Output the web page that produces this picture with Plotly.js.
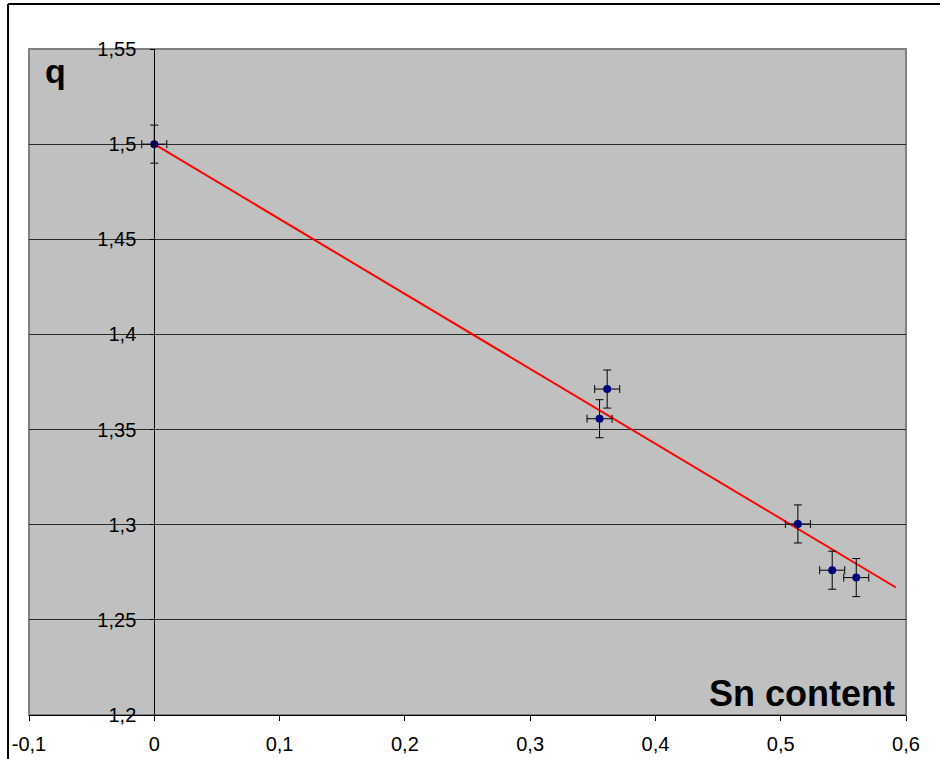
<!DOCTYPE html>
<html>
<head>
<meta charset="utf-8">
<script src="https://cdn.plot.ly/plotly-3.0.1.min.js"></script>
<style>
html,body{margin:0;padding:0;background:#fff;}
#chart{width:940px;height:759px;}
</style>
</head>
<body>
<div id="chart"></div>
<script>
// Data
const snContent = [0.0, 0.3615, 0.3554, 0.5137, 0.5411, 0.5603];
const qValues   = [1.500, 1.3713, 1.3557, 1.3004, 1.2761, 1.2722];
const snError   = [0.01, 0.01, 0.01, 0.01, 0.01, 0.01];
const qError    = [0.01, 0.01, 0.01, 0.01, 0.01, 0.01];

const fitX = [0.0, 0.592];
const fitY = [1.500, 1.267];

const xTickVals = [-0.1, 0, 0.1, 0.2, 0.3, 0.4, 0.5, 0.6];
const xTickText = ['-0,1', '0', '0,1', '0,2', '0,3', '0,4', '0,5', '0,6'];
const yTickVals = [1.2, 1.25, 1.3, 1.35, 1.4, 1.45, 1.5, 1.55];
const yTickText = ['1,2', '1,25', '1,3', '1,35', '1,4', '1,45', '1,5', '1,55'];

const FONT = 'Arial, "Liberation Sans", sans-serif';

const traces = [
  {
    x: fitX, y: fitY, type: 'scatter', mode: 'lines',
    line: {color: '#ff0000', width: 2},
    hoverinfo: 'skip', showlegend: false
  },
  {
    x: snContent, y: qValues, type: 'scatter', mode: 'markers',
    marker: {color: '#000080', size: 8},
    error_x: {type: 'data', array: snError, visible: true, color: '#000', thickness: 1, width: 4},
    error_y: {type: 'data', array: qError, visible: true, color: '#000', thickness: 1, width: 4},
    showlegend: false
  }
];

const layout = {
  width: 940, height: 759,
  margin: {l: 29, r: 34, t: 49, b: 44, pad: 0},
  paper_bgcolor: '#ffffff',
  plot_bgcolor: '#c0c0c0',
  showlegend: false,
  font: {family: FONT, size: 20, color: '#000'},
  xaxis: {
    range: [-0.1, 0.6], domain: [0, 1],
    tickvals: xTickVals, ticktext: xTickText,
    showgrid: false, zeroline: false,
    showline: true, linecolor: '#000', linewidth: 1,
    ticks: 'outside', ticklen: 5, tickcolor: '#000', tickwidth: 1,
    ticklabelstandoff: 6,
    tickfont: {family: FONT, size: 20, color: '#000'},
    fixedrange: true
  },
  yaxis: {
    range: [1.2, 1.55],
    anchor: 'free', position: 1/7,
    tickvals: yTickVals, ticktext: yTickText,
    showgrid: true, gridcolor: '#2a2a2a', gridwidth: 1,
    zeroline: false,
    showline: true, linecolor: '#000', linewidth: 1,
    ticks: 'outside', ticklen: 4, tickcolor: '#000', tickwidth: 1,
    ticklabelstandoff: 10,
    tickfont: {family: FONT, size: 20, color: '#000'},
    fixedrange: true
  },
  shapes: [
    {type: 'rect', xref: 'x domain', yref: 'y domain', x0: 0, x1: 1, y0: 0, y1: 1,
     line: {color: '#808080', width: 2}, layer: 'below'},
    {type: 'line', xref: 'paper', yref: 'paper', x0: -0.0239, x1: -0.0239, y0: 1.0676, y1: -0.08,
     line: {color: '#000', width: 2}},
    {type: 'line', xref: 'paper', yref: 'paper', x0: -0.0239, x1: 1.05, y0: 1.0676, y1: 1.0676,
     line: {color: '#000', width: 2}}
  ],
  annotations: [
    {text: '<b>q</b>', xref: 'paper', yref: 'paper', x: 0.016, y: 0.967,
     xanchor: 'left', yanchor: 'middle', showarrow: false,
     font: {family: FONT, size: 34, color: '#000'}},
    {text: '<b>Sn content</b>', xref: 'paper', yref: 'paper', x: 0.9897, y: 0.033,
     xanchor: 'right', yanchor: 'middle', showarrow: false,
     font: {family: FONT, size: 36, color: '#000'}}
  ]
};

Plotly.newPlot('chart', traces, layout, {displayModeBar: false, staticPlot: true});
</script>
</body>
</html>
